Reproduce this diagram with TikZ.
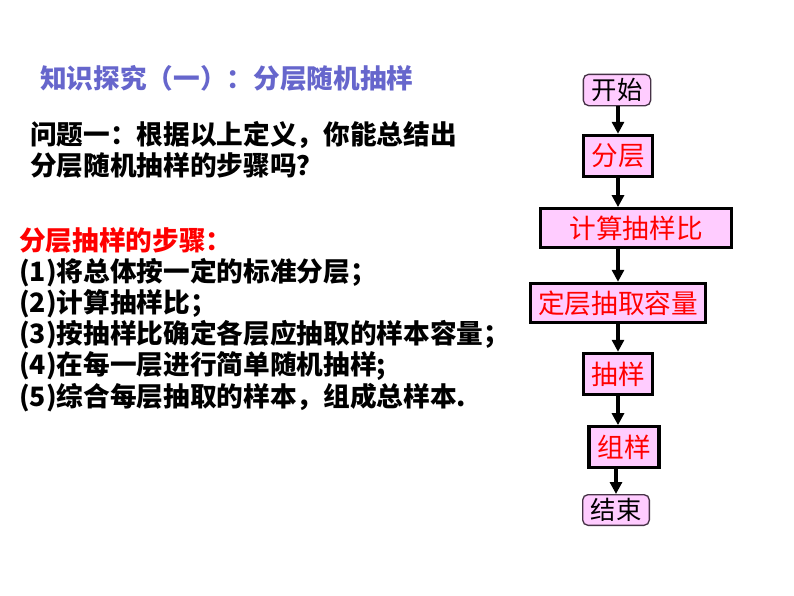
\documentclass[tikz,border=0pt]{standalone}
\usepackage{fontspec}
\setmainfont{Noto Sans CJK SC}
\usetikzlibrary{arrows.meta}
\definecolor{boxfill}{RGB}{255,204,255}
\definecolor{titleblue}{RGB}{102,102,204}
\definecolor{stepred}{RGB}{255,0,0}
\definecolor{edgegray}{RGB}{70,50,70}
\tikzset{
  txtline/.style={anchor=west, inner sep=0pt, font=\fontsize{20}{24}\selectfont\bfseries},
  stepbox/.style={draw=black, line width=2.3pt, fill=boxfill, text=stepred, inner sep=0pt, font=\fontsize{20}{24}\selectfont},
  endbox/.style={draw=edgegray, line width=1pt, rounded corners=4pt, fill=boxfill, text=black, inner sep=0pt, font=\fontsize{19}{23}\selectfont},
  flow/.style={line width=2.4pt, -{Triangle[length=9pt,width=9pt]}}
}
\begin{document}
\begin{tikzpicture}[x=0.75pt,y=-0.75pt]
\useasboundingbox (0,0) rectangle (794,596);
\fill[white] (0,0) rectangle (794,596);
% left texts
\node[txtline, text=titleblue] (title) at (40,78) {知识探究（一）：分层随机抽样};
\node[txtline] (q1) at (30,135) {问题一：根据以上定义，你能总结出};
\node[txtline] (q2) at (30,165) {分层随机抽样的步骤吗？};
\node[txtline, text=stepred] (sh) at (19,240) {分层抽样的步骤：};
\node[txtline] (s1) at (19,273) {(1)将总体按一定的标准分层；};
\node[txtline] (s2) at (19,304) {(2)计算抽样比；};
\node[txtline] (s3) at (19,335) {(3)按抽样比确定各层应抽取的样本容量；};
\node[txtline] (s4) at (19,366) {(4)在每一层进行简单随机抽样;};
\node[txtline] (s5) at (19,398) {(5)综合每层抽取的样本，组成总样本.};
% flowchart
\node[endbox, minimum width=50.5pt, minimum height=23.5pt] (start) at (617,90) {开始};
\node[stepbox, minimum width=52pt, minimum height=31pt] (fc) at (618,156) {分层};
\node[stepbox, minimum width=143.5pt, minimum height=29pt] (js) at (636,228) {计算抽样比};
\node[stepbox, minimum width=131.5pt, minimum height=29.5pt] (dc) at (618,303) {定层抽取容量};
\node[stepbox, minimum width=52pt, minimum height=31pt] (cy) at (618,374) {抽样};
\node[stepbox, minimum width=52.5pt, minimum height=30.5pt] (zy) at (624,447) {组样};
\node[endbox, minimum width=50pt, minimum height=23pt] (end) at (616,510) {结束};
\draw[flow] (start.south -| fc.north) -- (fc.north);
\draw[flow] (fc.south) -- (js.north -| fc.south);
\draw[flow] (js.south -| dc.north) -- (dc.north);
\draw[flow] (dc.south) -- (cy.north);
\draw[flow] (cy.south) -- (zy.north -| cy.south);
\draw[flow] (zy.south -| end.north) -- (end.north);
\end{tikzpicture}
\end{document}
